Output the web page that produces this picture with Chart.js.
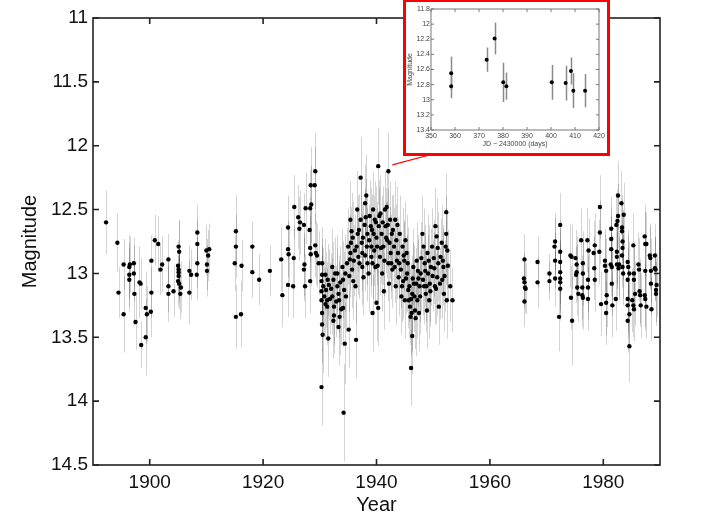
<!DOCTYPE html>
<html>
<head>
<meta charset="utf-8">
<script src="https://cdn.jsdelivr.net/npm/chart.js@4.4.0/dist/chart.umd.min.js"></script>
<style>
  html, body { margin: 0; padding: 0; background: #fff; }
  #wrap { position: relative; width: 706px; height: 529px; overflow: hidden; }
  #main { position: absolute; left: 0; top: 0; }
  #insetBox {
    position: absolute; left: 403px; top: -1px;
    width: 201px; height: 151px;
    border: 3px solid #f00; background: #fff;
  }
  #inset { display: block; }
</style>
</head>
<body>
<div id="wrap">
  <canvas id="main" width="706" height="529"></canvas>
  <div id="insetBox"><canvas id="inset" width="201" height="151"></canvas></div>
</div>
<script>
'use strict'
// [year, magnitude, error]
const early = [
  [1892.3, 12.60, 0.25], [1894.3, 12.76, 0.23], [1894.5, 13.15, 0.2], [1895.4, 12.93, 0.2],
  [1895.4, 13.32, 0.3], [1896.4, 12.95, 0.25], [1896.5, 12.93, 0.22], [1896.4, 13.01, 0.25],
  [1896.4, 13.05, 0.25], [1897.2, 12.92, 0.2], [1897.2, 13.00, 0.22], [1897.3, 13.16, 0.25],
  [1897.5, 13.38, 0.22], [1898.2, 13.07, 0.28], [1898.4, 13.08, 0.2], [1898.5, 13.56, 0.18],
  [1899.3, 13.27, 0.28], [1899.3, 13.50, 0.3], [1899.5, 13.32, 0.22], [1900.2, 13.30, 0.2],
  [1900.3, 13.15, 0.2], [1900.3, 12.90, 0.2], [1900.9, 12.74, 0.2], [1901.5, 12.77, 0.22],
  [1901.9, 12.97, 0.2], [1902.2, 12.93, 0.22], [1903.3, 12.89, 0.2], [1903.3, 13.10, 0.2],
  [1903.3, 13.16, 0.22], [1904.2, 13.14, 0.2], [1905.1, 12.79, 0.2], [1905.2, 12.83, 0.25],
  [1905.0, 12.94, 0.2], [1905.1, 12.97, 0.2], [1905.1, 12.99, 0.2], [1905.1, 13.02, 0.2],
  [1905.0, 13.06, 0.2], [1905.2, 13.08, 0.2], [1905.5, 13.11, 0.2], [1905.4, 13.16, 0.2],
  [1907.0, 12.98, 0.2], [1907.3, 13.01, 0.2], [1907.0, 13.15, 0.25], [1908.4, 12.68, 0.22],
  [1908.4, 12.77, 0.2], [1908.4, 12.92, 0.2], [1908.3, 13.01, 0.2], [1910.0, 12.82, 0.2],
  [1910.3, 12.86, 0.2], [1910.5, 12.81, 0.2], [1910.1, 12.93, 0.2], [1910.1, 12.98, 0.2],
  [1915.2, 12.67, 0.28], [1915.2, 12.79, 0.25], [1915.0, 12.92, 0.22], [1915.2, 13.34, 0.25],
  [1916.1, 13.32, 0.26], [1916.2, 12.94, 0.2], [1918.1, 12.79, 0.2], [1918.1, 12.99, 0.2],
  [1919.3, 13.05, 0.2], [1921.2, 12.98, 0.2]
]

const midCentury = [
  [1923.4, 13.17, 0.25], [1923.2, 12.89, 0.25], [1924.4, 12.64, 0.25], [1924.4, 12.81, 0.22],
  [1924.4, 13.09, 0.25], [1924.5, 12.85, 0.22], [1925.3, 13.10, 0.25], [1925.4, 12.88, 0.25],
  [1925.5, 12.48, 0.25], [1926.2, 12.56, 0.25], [1926.4, 12.65, 0.25], [1926.5, 12.60, 0.25],
  [1927.2, 12.62, 0.25], [1927.3, 12.93, 0.25], [1927.2, 12.97, 0.25], [1927.4, 13.10, 0.25],
  [1927.5, 12.49, 0.28], [1928.3, 12.49, 0.3], [1928.5, 12.46, 0.3], [1928.2, 12.66, 0.25],
  [1928.3, 12.80, 0.25], [1928.4, 12.85, 0.25], [1928.3, 13.06, 0.25], [1928.4, 12.31, 0.3],
  [1929.1, 12.31, 0.3], [1929.2, 12.20, 0.3], [1929.2, 12.78, 0.25], [1929.3, 12.84, 0.25],
  [1929.5, 12.86, 0.25], [1929.8, 12.92, 0.25], [1930.3, 13.06, 0.28], [1930.3, 13.14, 0.28],
  [1930.3, 13.21, 0.3], [1930.4, 12.92, 0.28], [1930.4, 13.01, 0.28], [1930.6, 13.10, 0.3],
  [1930.4, 13.31, 0.3], [1930.4, 13.40, 0.3], [1930.5, 13.48, 0.3], [1930.3, 13.89, 0.3],
  [1931.0, 13.01, 0.28], [1931.1, 13.13, 0.3], [1931.3, 13.21, 0.3], [1931.3, 13.26, 0.3],
  [1931.5, 13.51, 0.3], [1931.6, 13.09, 0.28], [1932.2, 12.95, 0.3], [1932.4, 13.05, 0.3],
  [1932.2, 13.18, 0.3], [1932.5, 13.26, 0.3], [1932.5, 13.33, 0.3], [1932.4, 13.37, 0.3],
  [1933.1, 13.00, 0.3], [1933.1, 13.10, 0.3], [1933.3, 13.16, 0.3], [1933.4, 13.21, 0.3],
  [1933.3, 13.42, 0.3], [1933.5, 13.34, 0.3], [1934.0, 12.95, 0.3], [1934.1, 13.05, 0.3],
  [1934.3, 13.13, 0.3], [1934.4, 13.55, 0.32], [1934.1, 13.27, 0.3], [1934.5, 13.00, 0.3],
  [1934.2, 14.09, 0.38], [1935.0, 12.79, 0.3], [1935.1, 13.44, 0.3], [1935.3, 12.89, 0.3],
  [1935.4, 12.84, 0.3], [1935.4, 12.58, 0.3], [1935.6, 12.67, 0.3], [1935.7, 12.97, 0.3],
  [1935.9, 13.06, 0.3], [1936.3, 13.10, 0.3], [1936.4, 13.52, 0.3], [1936.5, 12.79, 0.3],
  [1936.6, 12.50, 0.3], [1936.7, 12.69, 0.3], [1936.8, 12.87, 0.3], [1937.2, 12.25, 0.32],
  [1937.2, 12.58, 0.3], [1937.4, 12.76, 0.3], [1937.5, 12.84, 0.3], [1937.5, 12.95, 0.3],
  [1937.7, 13.03, 0.3], [1938.0, 12.45, 0.3], [1938.1, 12.56, 0.3], [1938.2, 12.39, 0.32],
  [1938.3, 12.79, 0.3], [1938.4, 12.69, 0.3], [1938.4, 12.92, 0.3], [1938.6, 13.00, 0.3],
  [1939.0, 12.63, 0.3], [1939.1, 12.79, 0.3], [1939.1, 12.87, 0.3], [1939.3, 13.31, 0.3],
  [1939.4, 12.50, 0.3], [1939.5, 12.69, 0.3], [1939.7, 12.58, 0.3], [1939.8, 12.95, 0.3],
  [1940.0, 13.23, 0.3], [1940.3, 13.27, 0.3], [1940.3, 12.16, 0.3], [1940.1, 12.79, 0.3],
  [1940.4, 12.63, 0.3], [1940.6, 12.87, 0.3], [1940.7, 12.53, 0.3], [1940.9, 12.69, 0.3],
  [1941.0, 13.00, 0.3], [1941.2, 12.79, 0.3], [1941.3, 13.14, 0.3], [1941.5, 12.50, 0.3],
  [1941.6, 12.63, 0.3], [1941.8, 12.48, 0.3], [1941.9, 12.74, 0.3], [1942.1, 12.20, 0.3],
  [1942.1, 12.92, 0.3], [1942.2, 13.08, 0.3], [1942.4, 12.58, 0.3], [1942.5, 12.84, 0.3],
  [1942.7, 12.69, 0.3], [1942.8, 12.97, 0.3], [1943.1, 12.79, 0.3], [1943.3, 12.58, 0.3],
  [1943.4, 13.10, 0.3], [1943.6, 12.90, 0.3], [1943.7, 12.62, 0.3], [1943.9, 13.03, 0.3],
  [1944.1, 12.69, 0.3], [1944.3, 12.97, 0.3], [1944.4, 13.18, 0.3], [1944.6, 12.79, 0.3],
  [1944.7, 13.06, 0.3], [1944.9, 12.90, 0.3], [1945.0, 13.21, 0.3], [1945.1, 12.74, 0.3],
  [1945.3, 12.84, 0.3], [1945.4, 13.00, 0.3], [1945.6, 13.13, 0.3], [1945.7, 13.21, 0.3],
  [1945.9, 13.26, 0.3], [1946.0, 13.34, 0.3], [1946.2, 13.31, 0.3], [1946.3, 13.49, 0.3],
  [1946.1, 13.74, 0.3], [1946.3, 13.16, 0.3], [1946.5, 12.95, 0.3], [1946.6, 13.08, 0.3],
  [1946.8, 13.29, 0.3], [1946.9, 13.35, 0.3], [1947.1, 12.90, 0.3], [1947.2, 13.21, 0.3],
  [1947.4, 13.04, 0.3], [1947.5, 13.31, 0.3], [1947.7, 13.18, 0.3], [1947.8, 13.00, 0.3],
  [1948.1, 12.69, 0.3], [1948.3, 12.79, 0.3], [1948.4, 13.10, 0.3], [1948.5, 12.92, 0.3],
  [1948.7, 13.16, 0.3], [1948.9, 13.29, 0.3], [1949.0, 12.84, 0.3], [1949.1, 13.00, 0.3],
  [1949.3, 13.21, 0.3], [1949.4, 13.08, 0.3], [1949.6, 12.95, 0.3], [1949.8, 12.79, 0.3],
  [1950.1, 12.88, 0.3], [1950.3, 13.10, 0.3], [1950.4, 12.63, 0.3], [1950.6, 12.71, 0.3],
  [1950.7, 13.03, 0.3], [1950.9, 12.92, 0.3], [1951.0, 13.26, 0.3], [1951.3, 12.87, 0.3],
  [1951.5, 12.76, 0.3], [1951.6, 13.05, 0.3], [1951.8, 12.95, 0.3], [1951.9, 13.16, 0.3],
  [1952.2, 12.79, 0.3], [1952.3, 12.52, 0.3], [1952.3, 12.69, 0.3], [1952.4, 13.21, 0.3],
  [1952.5, 12.82, 0.3], [1953.4, 13.21, 0.25],
  [1930.8, 13.18, 0.28], [1931.0, 13.24, 0.28], [1931.4, 13.05, 0.28], [1931.8, 13.20, 0.28],
  [1932.0, 13.12, 0.28], [1932.7, 13.00, 0.28], [1932.9, 13.22, 0.28], [1933.6, 13.07, 0.28],
  [1933.8, 13.28, 0.28], [1934.6, 13.18, 0.28], [1934.8, 12.92, 0.28], [1935.2, 13.02, 0.28],
  [1935.5, 12.76, 0.28], [1935.8, 12.72, 0.28], [1936.0, 12.90, 0.28], [1936.2, 12.82, 0.28],
  [1936.9, 12.66, 0.28], [1937.0, 12.92, 0.28], [1937.6, 12.72, 0.28], [1937.9, 12.62, 0.28],
  [1938.0, 12.86, 0.28], [1938.7, 12.74, 0.28], [1938.8, 12.55, 0.28], [1939.2, 12.66, 0.28],
  [1939.3, 12.92, 0.28], [1939.6, 12.82, 0.28], [1939.9, 12.60, 0.28], [1940.0, 12.72, 0.28],
  [1940.2, 12.94, 0.28], [1940.5, 12.55, 0.28], [1940.8, 12.80, 0.28], [1941.1, 12.60, 0.28],
  [1941.4, 12.90, 0.28], [1941.7, 12.72, 0.28], [1942.0, 12.62, 0.28], [1942.3, 12.76, 0.28],
  [1942.6, 12.92, 0.28], [1942.9, 12.66, 0.28], [1943.2, 12.95, 0.28], [1943.5, 12.74, 0.28],
  [1943.8, 12.84, 0.28], [1944.0, 12.92, 0.28], [1944.5, 13.10, 0.28], [1944.8, 12.86, 0.28],
  [1945.2, 13.04, 0.28], [1945.5, 12.92, 0.28], [1945.8, 13.10, 0.28], [1946.1, 13.20, 0.28],
  [1946.4, 13.04, 0.28], [1946.7, 13.18, 0.28], [1947.0, 13.08, 0.28], [1947.3, 12.98, 0.28],
  [1947.6, 13.10, 0.28], [1947.9, 12.88, 0.28], [1948.2, 13.05, 0.28], [1948.6, 12.98, 0.28],
  [1948.8, 13.10, 0.28], [1949.2, 12.90, 0.28], [1949.5, 13.14, 0.28], [1949.9, 13.02, 0.28],
  [1950.2, 12.96, 0.28], [1950.5, 13.12, 0.28], [1950.8, 12.80, 0.28], [1951.2, 13.08, 0.28],
  [1951.7, 12.90, 0.28], [1952.0, 13.02, 0.28], [1952.6, 12.94, 0.28], [1953.0, 13.10, 0.28]
]

const late = [
  [1966.1, 12.89, 0.2], [1966.0, 13.04, 0.2], [1966.1, 13.07, 0.2], [1966.2, 13.11, 0.2],
  [1966.3, 13.12, 0.2], [1966.1, 13.22, 0.2], [1968.4, 12.91, 0.2], [1968.4, 13.07, 0.2],
  [1970.5, 13.00, 0.15], [1970.5, 13.06, 0.15], [1971.5, 12.75, 0.22], [1971.4, 12.79, 0.22],
  [1971.5, 12.90, 0.22], [1971.5, 13.04, 0.22], [1972.4, 12.62, 0.25], [1972.4, 12.83, 0.25],
  [1972.4, 12.91, 0.25], [1972.4, 12.99, 0.25], [1972.4, 13.04, 0.25], [1972.4, 13.07, 0.25],
  [1972.4, 13.12, 0.25], [1972.2, 13.34, 0.27], [1974.2, 12.86, 0.25], [1974.4, 12.87, 0.25],
  [1974.3, 13.19, 0.25], [1974.5, 13.37, 0.35], [1975.1, 12.88, 0.22], [1975.3, 12.93, 0.22],
  [1975.3, 12.99, 0.22], [1975.2, 13.01, 0.22], [1975.4, 13.11, 0.22], [1975.6, 13.16, 0.22],
  [1976.1, 12.74, 0.25], [1976.4, 12.92, 0.25], [1976.4, 13.00, 0.25], [1976.3, 13.11, 0.25],
  [1976.3, 13.17, 0.25], [1976.4, 13.19, 0.25], [1977.2, 12.74, 0.25], [1977.4, 12.82, 0.25],
  [1977.3, 13.05, 0.25], [1977.3, 13.11, 0.25], [1977.3, 13.20, 0.25], [1978.3, 12.84, 0.25],
  [1978.5, 12.78, 0.25], [1978.4, 12.96, 0.25], [1978.5, 13.05, 0.25], [1979.3, 12.83, 0.25],
  [1979.4, 12.68, 0.25], [1979.4, 12.48, 0.25], [1979.6, 13.24, 0.25], [1980.3, 12.90, 0.25],
  [1980.3, 12.94, 0.25], [1980.5, 12.98, 0.25], [1980.5, 13.23, 0.25], [1980.5, 13.31, 0.25],
  [1980.6, 13.17, 0.25], [1981.4, 12.65, 0.25], [1981.4, 12.73, 0.25], [1981.4, 12.81, 0.25],
  [1981.3, 12.93, 0.25], [1981.5, 12.95, 0.25], [1981.5, 13.08, 0.25], [1981.6, 13.25, 0.25],
  [1982.2, 13.20, 0.25], [1982.3, 12.62, 0.25], [1982.5, 12.59, 0.25], [1982.6, 12.55, 0.25],
  [1982.6, 12.39, 0.27], [1982.4, 12.83, 0.25], [1982.4, 12.87, 0.25], [1982.4, 12.93, 0.25],
  [1982.7, 12.96, 0.25], [1982.8, 12.93, 0.25], [1983.2, 12.45, 0.25], [1983.3, 12.64, 0.25],
  [1983.3, 12.67, 0.25], [1983.4, 12.75, 0.25], [1983.4, 12.80, 0.25], [1983.3, 12.86, 0.25],
  [1983.6, 12.54, 0.25], [1983.4, 12.95, 0.25], [1983.5, 13.00, 0.25], [1984.3, 12.91, 0.25],
  [1984.3, 13.05, 0.25], [1984.3, 13.25, 0.25], [1984.3, 13.20, 0.25], [1984.4, 12.95, 0.25],
  [1984.6, 13.57, 0.28], [1984.3, 13.37, 0.25], [1984.6, 13.32, 0.25], [1984.6, 13.00, 0.25],
  [1985.1, 13.21, 0.25], [1985.3, 13.25, 0.25], [1985.3, 12.78, 0.25], [1985.4, 13.05, 0.25],
  [1985.4, 13.28, 0.25], [1985.6, 13.16, 0.25], [1985.4, 13.00, 0.25], [1986.2, 12.93, 0.25],
  [1986.3, 12.97, 0.25], [1986.4, 13.14, 0.25], [1986.6, 13.25, 0.25], [1986.5, 13.17, 0.25],
  [1987.3, 12.71, 0.25], [1987.4, 12.77, 0.25], [1987.6, 12.77, 0.25], [1987.3, 13.17, 0.25],
  [1987.4, 13.20, 0.25], [1987.6, 13.26, 0.25], [1987.4, 12.98, 0.25], [1988.2, 12.86, 0.25],
  [1988.3, 12.88, 0.25], [1988.4, 12.98, 0.25], [1988.5, 13.28, 0.25], [1988.4, 13.08, 0.25],
  [1989.1, 12.86, 0.25], [1989.1, 12.96, 0.25], [1989.3, 13.13, 0.25], [1989.3, 13.16, 0.25],
  [1989.4, 13.09, 0.25], [1989.2, 12.97, 0.25]
]

// inset: [JD - 2430000, magnitude, error]
const insetObs = [
  [358.4, 12.65, 0.22], [358.4, 12.82, 0.16], [373.2, 12.47, 0.16], [376.5, 12.19, 0.21],
  [380.1, 12.77, 0.26], [381.4, 12.82, 0.18], [400.3, 12.77, 0.23], [406.1, 12.78, 0.23],
  [408.3, 12.62, 0.18], [409.3, 12.88, 0.23], [414.2, 12.88, 0.22]
]

const yearTicks = [1900, 1920, 1940, 1960, 1980]
const zoomedPoint = [1942.8, 12.15]

const FONT = 'Liberation Sans, Arial, Helvetica, sans-serif'
const toPts = (rows) => rows.map((r) => ({ x: r[0], y: r[1], e: r[2] }))
const fmt = (v) => String(+Number(v).toFixed(1))

const errorBars = {
  id: 'errorBars',
  beforeDatasetsDraw(chart, args, opts) {
    const { ctx, chartArea, scales: { x, y } } = chart
    ctx.save()
    ctx.beginPath()
    ctx.rect(chartArea.left, chartArea.top, chartArea.width, chartArea.height)
    ctx.clip()
    ctx.strokeStyle = opts.color
    ctx.lineWidth = opts.width
    chart.data.datasets.forEach((ds) => {
      ds.data.forEach((p) => {
        const px = Math.round(x.getPixelForValue(p.x)) + 0.5
        ctx.beginPath()
        ctx.moveTo(px, y.getPixelForValue(p.y - p.e))
        ctx.lineTo(px, y.getPixelForValue(p.y + p.e))
        ctx.stroke()
      })
    })
    ctx.restore()
  }
}

// matlab style box with inward ticks
const frame = {
  id: 'frame',
  afterDatasetsDraw(chart, args, opts) {
    const { ctx, chartArea: { left, right, top, bottom }, scales: { x, y } } = chart
    ctx.save()
    ctx.strokeStyle = opts.color
    ctx.lineWidth = opts.width
    ctx.beginPath()
    x.ticks.forEach((t) => {
      const px = x.getPixelForValue(t.value)
      ctx.moveTo(px, bottom); ctx.lineTo(px, bottom - opts.len)
      ctx.moveTo(px, top); ctx.lineTo(px, top + opts.len)
    })
    y.ticks.forEach((t) => {
      const py = y.getPixelForValue(t.value)
      ctx.moveTo(left, py); ctx.lineTo(left + opts.len, py)
      ctx.moveTo(right, py); ctx.lineTo(right - opts.len, py)
    })
    ctx.stroke()
    ctx.strokeRect(left, top, right - left, bottom - top)
    ctx.restore()
  }
}

const connector = {
  id: 'connector',
  afterDraw(chart) {
    const { ctx, scales: { x, y } } = chart
    ctx.save()
    ctx.strokeStyle = '#f00'
    ctx.lineWidth = 1.2
    ctx.beginPath()
    ctx.moveTo(x.getPixelForValue(zoomedPoint[0]), y.getPixelForValue(zoomedPoint[1]))
    ctx.lineTo(433, 154)
    ctx.stroke()
    ctx.restore()
  }
}

function dataset(rows, r) {
  return {
    data: toPts(rows),
    pointRadius: r,
    pointBackgroundColor: '#000',
    pointBorderWidth: 0,
    showLine: false
  }
}

new Chart(document.getElementById('main'), {
  type: 'scatter',
  data: { datasets: [dataset(early, 2.2), dataset(midCentury, 2.2), dataset(late, 2.2)] },
  options: {
    responsive: false,
    animation: false,
    layout: { padding: { left: 0, right: 46, top: 18, bottom: 0 } },
    plugins: {
      legend: { display: false },
      tooltip: { enabled: false },
      errorBars: { color: 'rgba(0,0,0,0.17)', width: 1 },
      frame: { color: '#222', width: 1.6, len: 6 }
    },
    scales: {
      x: {
        type: 'linear',
        min: 1890,
        max: 1990,
        afterBuildTicks: (s) => { s.ticks = yearTicks.map((v) => ({ value: v })) },
        afterFit: (s) => { s.height = 64 },
        grid: { display: false, drawTicks: false },
        border: { display: false },
        ticks: {
          font: { family: FONT, size: 19 }, color: '#111', padding: 6,
          maxRotation: 0, autoSkip: false, callback: (v) => String(v)
        },
        title: { display: true, text: 'Year', color: '#111', font: { family: FONT, size: 20 }, padding: { bottom: 12 } }
      },
      y: {
        type: 'linear',
        reverse: true,
        min: 11,
        max: 14.5,
        afterFit: (s) => { s.width = 93 },
        grid: { display: false, drawTicks: false },
        border: { display: false },
        ticks: { stepSize: 0.5, font: { family: FONT, size: 19 }, color: '#111', padding: 5, callback: fmt },
        title: { display: true, text: 'Magnitude', color: '#111', font: { family: FONT, size: 20 }, padding: { top: 18 } }
      }
    }
  },
  plugins: [errorBars, frame, connector]
})

new Chart(document.getElementById('inset'), {
  type: 'scatter',
  data: { datasets: [dataset(insetObs, 2)] },
  options: {
    responsive: false,
    animation: false,
    layout: { padding: { left: 0, right: 8, top: 7, bottom: 0 } },
    plugins: {
      legend: { display: false },
      tooltip: { enabled: false },
      errorBars: { color: '#8a8a8a', width: 1.5 },
      frame: { color: '#777', width: 1, len: 3 }
    },
    scales: {
      x: {
        type: 'linear',
        min: 350,
        max: 420,
        afterFit: (s) => { s.height = 23 },
        grid: { display: false, drawTicks: false },
        border: { display: false },
        ticks: { stepSize: 10, font: { family: FONT, size: 7 }, color: '#444', padding: 2, maxRotation: 0, autoSkip: false },
        title: { display: true, text: 'JD − 2430000 (days)', color: '#444', font: { family: FONT, size: 7 }, padding: { bottom: 5 } }
      },
      y: {
        type: 'linear',
        reverse: true,
        min: 11.8,
        max: 13.4,
        afterFit: (s) => { s.width = 25 },
        grid: { display: false, drawTicks: false },
        border: { display: false },
        ticks: { stepSize: 0.2, font: { family: FONT, size: 7 }, color: '#444', padding: 1, autoSkip: false, callback: fmt },
        title: { display: true, text: 'Magnitude', color: '#444', font: { family: FONT, size: 7 }, padding: { top: 0 } }
      }
    }
  },
  plugins: [errorBars, frame]
})
</script>
</body>
</html>
